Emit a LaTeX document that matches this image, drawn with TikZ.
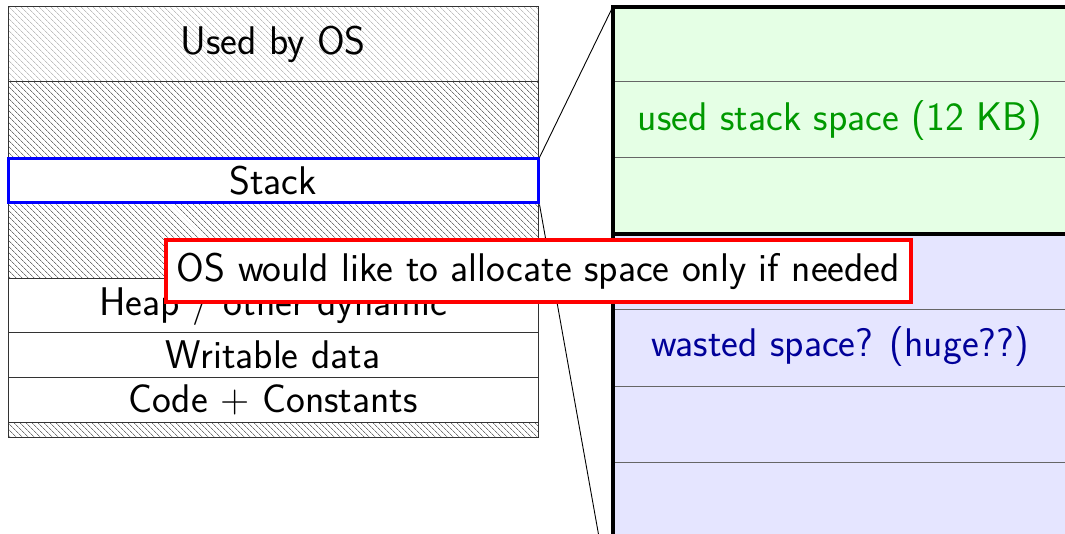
\documentclass[tikz,border=0pt]{standalone}
\usetikzlibrary{patterns.meta}
\begin{document}
\begin{tikzpicture}[x=1pt,y=-1pt,
  font=\sffamily\fontsize{40}{46}\selectfont,
  seg/.style={draw=black!80, line width=1pt, minimum width=530pt, inner sep=0pt},
  oshatch/.style={seg, pattern={Lines[angle=-45,distance=4pt,line width=0.7pt]}, pattern color=black!25},
  freehatch/.style={seg, pattern={Lines[angle=-45,distance=4pt,line width=0.7pt]}, pattern color=black!55},
  plain/.style={seg, fill=white},
  stackbox/.style={draw=blue, line width=3pt, minimum width=530pt, inner sep=0pt, fill=white},
  row/.style={draw=black!60, line width=1pt},
  frame/.style={draw=black, line width=4pt},
  zoomline/.style={draw=black, line width=0.9pt},
  note/.style={draw=red, line width=3.5pt, fill=white, minimum width=745pt, minimum height=62pt, inner sep=0pt}]
\useasboundingbox (0,0) rectangle (1065,534);
\begin{scope}
\clip (0,0) rectangle (1065,534);

% memory layout column
\node[oshatch, minimum height=75pt] (os) at (273,44.5) {Used by OS};
\node[freehatch, minimum height=77pt] (free1) at (273,120.5) {};
\node[freehatch, minimum height=76pt] (free2) at (273,241) {};
\node[plain, minimum height=54pt] (heap) at (273,306) {Heap / other dynamic};
\node[plain, minimum height=44pt] (data) at (273,355) {Writable data};
\node[plain, minimum height=45pt] (code) at (273,399.5) {Code + Constants};
\node[freehatch, minimum height=15pt] (free3) at (273,429.5) {};
\node[stackbox, minimum height=44pt] (stack) at (273,181) {Stack};

% enlarged view of the stack
\node[fill=green!10, minimum width=454pt, minimum height=227pt, inner sep=0pt] (used) at (840,120.5) {};
\node[fill=blue!10, minimum width=454pt, minimum height=380pt, inner sep=0pt] (wasted) at (840,424) {};
\foreach \y in {82,158} \draw[row] (613,\y) -- (1067,\y);
\foreach \y in {310,386,462,538} \draw[row] (613,\y) -- (1067,\y);
\draw[frame] (wasted.north west) rectangle (wasted.south east);
\draw[frame] (used.north west) rectangle (used.south east);
\node[text=green!60!black] (usedlbl) at (used.center) {used stack space (12 KB)};
\node[text=blue!60!black] (wastedlbl) at (840,347) {wasted space? (huge??)};

% zoom guides
\draw[zoomline] (stack.north east) -- (used.north west);
\draw[zoomline] (stack.south east) -- (wasted.south west);

% remark
\node[note] (remark) at (538.5,271) {OS would like to allocate space only if needed};
\end{scope}
\end{tikzpicture}
\end{document}
